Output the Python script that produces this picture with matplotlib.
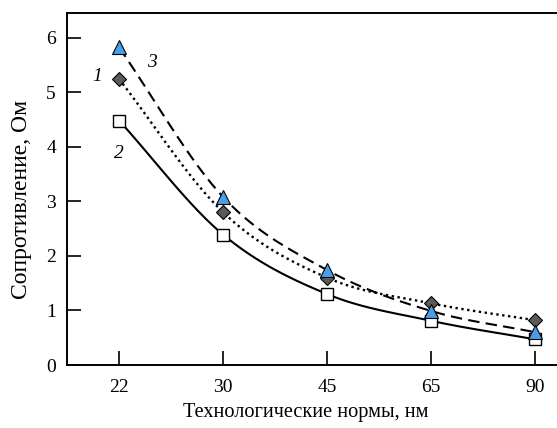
import numpy as np
import matplotlib
matplotlib.use("Agg")
import matplotlib.pyplot as plt

plt.rcParams["font.family"] = ["Liberation Serif", "DejaVu Serif"]

nodes = ["22", "30", "45", "65", "90"]
res_1 = [5.24, 2.80, 1.60, 1.13, 0.82]   # diamonds, dotted
res_2 = [4.48, 2.39, 1.30, 0.81, 0.47]   # squares, solid
res_3 = [5.82, 3.08, 1.74, 0.99, 0.60]   # triangles, dashed


def smooth(x, y, n=30):
    # catmull-rom curve through the points, only for drawing the line
    x = np.asarray(x, float)
    y = np.asarray(y, float)
    px = np.concatenate([[2 * x[0] - x[1]], x, [2 * x[-1] - x[-2]]])
    py = np.concatenate([[2 * y[0] - y[1]], y, [2 * y[-1] - y[-2]]])
    xs, ys = [], []
    t = np.linspace(0, 1, n)
    for i in range(1, len(px) - 2):
        for p, out in ((px, xs), (py, ys)):
            p0, p1, p2, p3 = p[i - 1], p[i], p[i + 1], p[i + 2]
            out.extend(0.5 * ((2 * p1) + (-p0 + p2) * t
                              + (2 * p0 - 5 * p1 + 4 * p2 - p3) * t ** 2
                              + (-p0 + 3 * p1 - 3 * p2 + p3) * t ** 3))
    return np.array(xs), np.array(ys)


fig = plt.figure(figsize=(5.57, 4.28), dpi=100)
ax = fig.add_axes([67 / 557, 63 / 428, 1 - 67 / 557, (365 - 13) / 428])

pos = np.arange(len(nodes))

sx, sy = smooth(pos, res_2)
ax.plot(sx, sy, color="black", lw=1.5, ls="-")
sx, sy = smooth(pos, res_1)
ax.plot(sx, sy, color="black", lw=1.7, ls=(0, (1, 1.5)))
sx, sy = smooth(pos, res_3)
ax.plot(sx, sy, color="black", lw=1.5, ls=(0, (5.5, 3)))

ax.plot(pos, res_2, ls="none", marker="s", ms=8, mfc="white", mec="black", mew=1.0, zorder=3)
ax.plot(pos, res_1, ls="none", marker="D", ms=7.5, mfc="#5a5a5a", mec="black", mew=0.8, zorder=4)
ax.plot(pos, res_3, ls="none", marker="^", ms=10, mfc="#4a9ee8", mec="black", mew=0.8, zorder=5)

ax.text(-0.21, 5.28, "1", style="italic", fontsize=14, ha="center", va="center")
ax.text(0.32, 5.55, "3", style="italic", fontsize=14, ha="center", va="center")
ax.text(0.0, 3.88, "2", style="italic", fontsize=14, ha="center", va="center")

ax.set_xlim(-0.5, 4.21)
ax.set_ylim(0, 6.45)
ax.set_xticks(pos)
ax.set_xticklabels(nodes)
ax.set_yticks(range(0, 7))
ax.tick_params(direction="in", length=10, width=1.2, labelsize=14)
ax.tick_params(axis="x", pad=10)
ax.tick_params(axis="y", pad=8)

for s in ax.spines.values():
    s.set_linewidth(1.4)
ax.spines["right"].set_visible(False)

ax.set_xlabel("Технологические нормы, нм", fontsize=14.6)
ax.set_ylabel("Сопротивление, Ом", fontsize=17)
ax.xaxis.set_label_coords(0.488, -0.108)
ax.yaxis.set_label_coords(-0.072, 0.469)

fig.savefig("out.png", dpi=100)
